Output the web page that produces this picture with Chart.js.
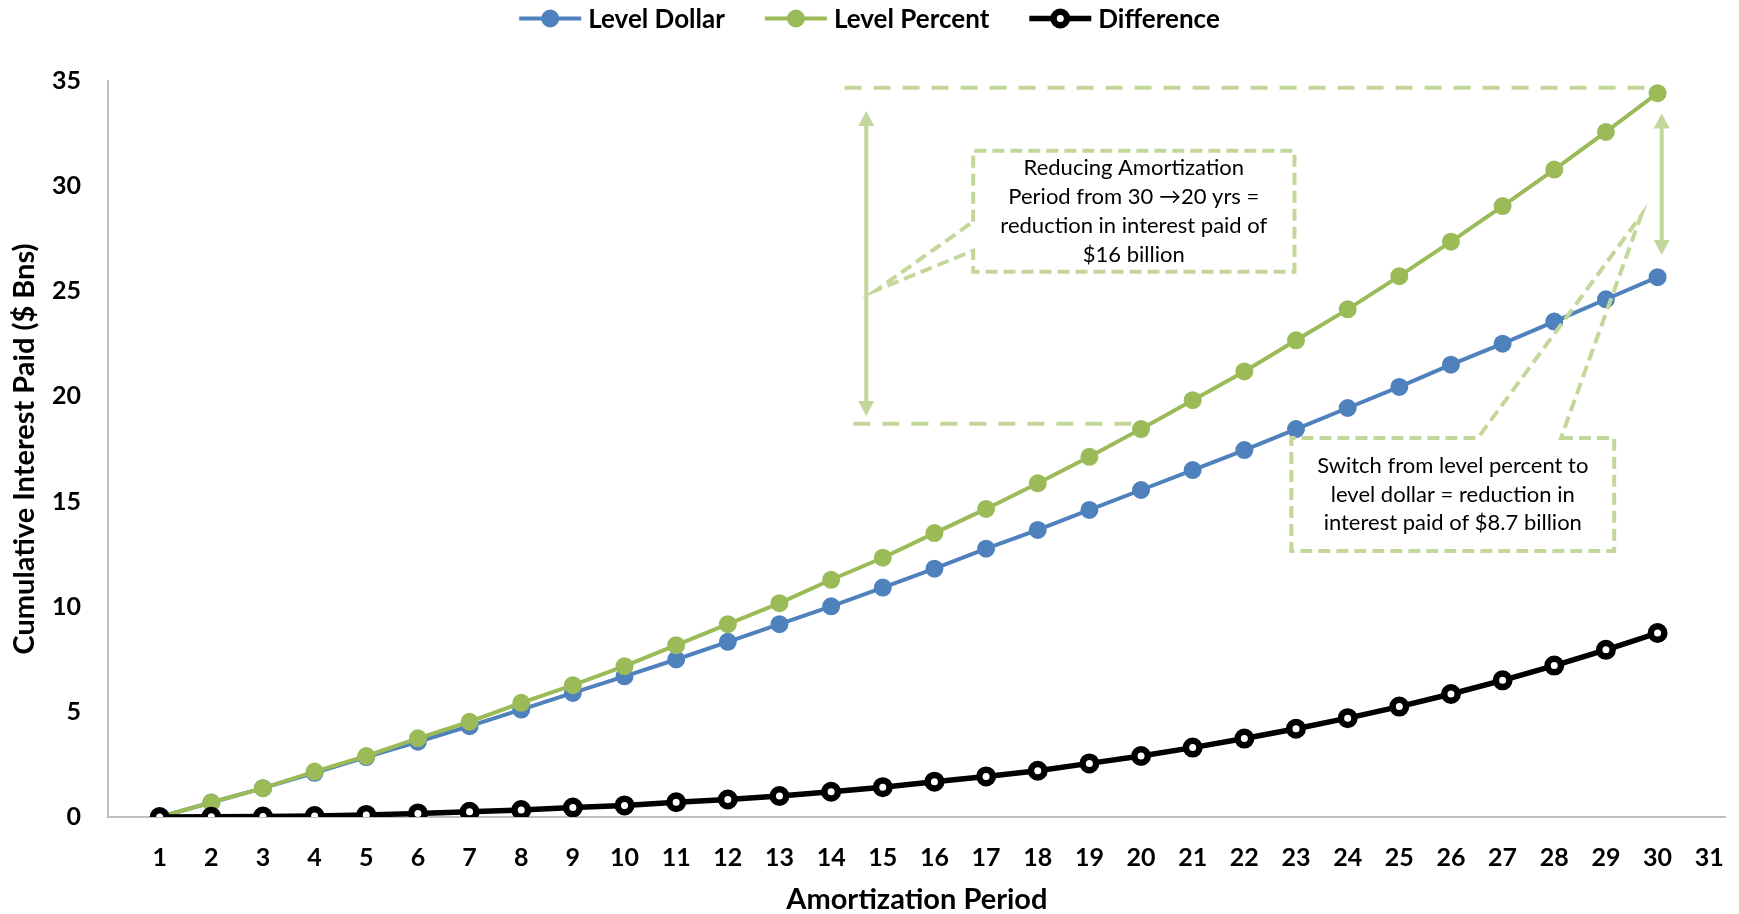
<!DOCTYPE html>
<html>
<head>
<meta charset="utf-8">
<title>Cumulative Interest Paid</title>
<script src="https://cdn.jsdelivr.net/npm/chart.js@4.4.0/dist/chart.umd.min.js"></script>
<style>
  html, body { margin: 0; padding: 0; background: #fff; }
  #wrap { width: 1739px; height: 914px; }
</style>
</head>
<body>
<div id="wrap"><canvas id="chart" width="1739" height="914"></canvas></div>
<script>
// Amortization periods shown on the axis (no data at 31)
const periods = [1, 2, 3, 4, 5, 6, 7, 8, 9, 10, 11, 12, 13, 14, 15, 16,
  17, 18, 19, 20, 21, 22, 23, 24, 25, 26, 27, 28, 29, 30, 31];

// Cumulative interest paid, $ billions
const levelDollar = [0, 0.69, 1.37, 2.1, 2.85, 3.58, 4.32, 5.11, 5.9, 6.69, 7.49, 8.33, 9.17, 10.02, 10.91,
  11.81, 12.76, 13.65, 14.6, 15.55, 16.5, 17.45, 18.45, 19.45, 20.45, 21.51, 22.51, 23.56, 24.62, 25.67];
const levelPercent = [0, 0.69, 1.37, 2.16, 2.9, 3.74, 4.53, 5.43, 6.27, 7.17, 8.17, 9.17, 10.17, 11.28, 12.33,
  13.5, 14.65, 15.87, 17.13, 18.45, 19.82, 21.19, 22.67, 24.14, 25.72, 27.36, 29.05, 30.79, 32.58, 34.42];
const difference = [0, 0.01, 0.02, 0.05, 0.1, 0.17, 0.25, 0.33, 0.45, 0.55, 0.7, 0.83, 1.0, 1.2, 1.42,
  1.68, 1.93, 2.2, 2.55, 2.9, 3.3, 3.73, 4.2, 4.7, 5.25, 5.85, 6.5, 7.2, 7.95, 8.75];

const seriesNames = ['Level Dollar', 'Level Percent', 'Difference'];
const yTicks = [0, 5, 10, 15, 20, 25, 30, 35];

const calloutText1 = ['Reducing Amortization', 'Period from 30 \u219220 yrs =', 'reduction in interest paid of', '$16 billion'];
const calloutText2 = ['Switch from level percent to', 'level dollar = reduction in', 'interest paid of $8.7 billion'];

const BLUE = '#4f81bd';
const GREEN = '#9bbb59';
const ANNO = '#c4d79b';
const FONT = 'Lato, "Open Sans", sans-serif';

// annotation geometry, in period / value units
const anno = {
  topLine: { y: 34.68, x1: 14.26, x2: 29.77 },
  bottomLine: { y: 18.7, x1: 14.43, x2: 19.89 },
  arrow1: { x: 14.68, y1: 33.57, y2: 19.07 },
  arrow2: { x: 30.08, y1: 33.46, y2: 26.72 },
  box1: { l: 16.75, r: 22.97, t: 31.68, b: 25.93, tipX: 14.88, tipY: 25.06, a1: 28.31, a2: 26.93 },
  box2: { l: 22.91, r: 29.16, t: 18.02, b: 12.65, tipX: 29.68, tipY: 28.6, a1: 26.52, a2: 28.13 }
};

const toPoints = values => values.map((v, i) => ({ x: periods[i], y: v }));

const drawArrow = (ctx, x, yTop, yBot) => {
  const head = 15, half = 8;
  ctx.save();
  ctx.strokeStyle = ANNO;
  ctx.fillStyle = ANNO;
  ctx.lineWidth = 4;
  ctx.beginPath();
  ctx.moveTo(x, yTop + head - 2);
  ctx.lineTo(x, yBot - head + 2);
  ctx.stroke();
  ctx.beginPath();
  ctx.moveTo(x, yTop);
  ctx.lineTo(x - half, yTop + head);
  ctx.lineTo(x + half, yTop + head);
  ctx.closePath();
  ctx.fill();
  ctx.beginPath();
  ctx.moveTo(x, yBot);
  ctx.lineTo(x - half, yBot - head);
  ctx.lineTo(x + half, yBot - head);
  ctx.closePath();
  ctx.fill();
  ctx.restore();
};

const annotationPlugin = {
  id: 'annotations',
  afterDatasetsDraw(chart) {
    const ctx = chart.ctx;
    const xs = chart.scales.x, ys = chart.scales.y;
    const px = v => xs.getPixelForValue(v);
    const py = v => ys.getPixelForValue(v);

    ctx.save();
    ctx.strokeStyle = ANNO;
    ctx.lineWidth = 4;

    // long dashed guide lines
    ctx.setLineDash([17, 12]);
    [anno.topLine, anno.bottomLine].forEach(l => {
      ctx.beginPath();
      ctx.moveTo(px(l.x1), py(l.y));
      ctx.lineTo(px(l.x2), py(l.y));
      ctx.stroke();
    });

    // callout 1: pointer on the left side
    const b1 = anno.box1;
    ctx.setLineDash([12, 6]);
    ctx.beginPath();
    ctx.moveTo(px(b1.l), py(b1.a1));
    ctx.lineTo(px(b1.l), py(b1.t));
    ctx.lineTo(px(b1.r), py(b1.t));
    ctx.lineTo(px(b1.r), py(b1.b));
    ctx.lineTo(px(b1.l), py(b1.b));
    ctx.lineTo(px(b1.l), py(b1.a2));
    ctx.lineTo(px(b1.tipX), py(b1.tipY));
    ctx.closePath();
    ctx.stroke();

    // callout 2: pointer on the top side
    const b2 = anno.box2;
    ctx.beginPath();
    ctx.moveTo(px(b2.a2), py(b2.t));
    ctx.lineTo(px(b2.r), py(b2.t));
    ctx.lineTo(px(b2.r), py(b2.b));
    ctx.lineTo(px(b2.l), py(b2.b));
    ctx.lineTo(px(b2.l), py(b2.t));
    ctx.lineTo(px(b2.a1), py(b2.t));
    ctx.lineTo(px(b2.tipX), py(b2.tipY));
    ctx.closePath();
    ctx.stroke();
    ctx.setLineDash([]);

    // callout text
    ctx.fillStyle = '#000';
    ctx.font = '22px ' + FONT;
    ctx.textAlign = 'center';
    ctx.textBaseline = 'middle';
    const drawLines = (lines, box, step) => {
      const cx = (px(box.l) + px(box.r)) / 2;
      const cy = (py(box.t) + py(box.b)) / 2;
      const start = cy - step * (lines.length - 1) / 2;
      lines.forEach((t, i) => ctx.fillText(t, cx, start + i * step));
    };
    drawLines(calloutText1, b1, 29);
    drawLines(calloutText2, b2, 28.5);
    ctx.restore();

    drawArrow(ctx, px(anno.arrow1.x), py(anno.arrow1.y1), py(anno.arrow1.y2));
    drawArrow(ctx, px(anno.arrow2.x), py(anno.arrow2.y1), py(anno.arrow2.y2));
  },
  afterDraw(chart) {
    // legend: line + marker, centred over the canvas
    const ctx = chart.ctx;
    const lineLen = 62, gap = 7, itemGap = 40, cy = 18.5;
    ctx.save();
    ctx.font = 'bold 26px ' + FONT;
    ctx.textBaseline = 'middle';
    ctx.textAlign = 'left';
    const items = chart.data.datasets.map(ds => ({
      ds, w: lineLen + gap + ctx.measureText(ds.label).width
    }));
    const total = items.reduce((s, it) => s + it.w, 0) + itemGap * (items.length - 1);
    let x = (chart.width - total) / 2;
    items.forEach(({ ds, w }) => {
      ctx.strokeStyle = ds.borderColor;
      ctx.lineWidth = ds.borderWidth;
      ctx.beginPath();
      ctx.moveTo(x, cy);
      ctx.lineTo(x + lineLen, cy);
      ctx.stroke();
      ctx.beginPath();
      ctx.arc(x + lineLen / 2, cy, ds.pointRadius, 0, Math.PI * 2);
      ctx.fillStyle = ds.pointBackgroundColor;
      ctx.fill();
      ctx.lineWidth = ds.pointBorderWidth;
      ctx.strokeStyle = ds.pointBorderColor;
      ctx.stroke();
      ctx.fillStyle = '#000';
      ctx.fillText(ds.label, x + lineLen + gap, cy + 1);
      x += w + itemGap;
    });
    ctx.restore();
  }
};

const ctx = document.getElementById('chart').getContext('2d');
const chart = new Chart(ctx, {
  type: 'line',
  data: {
    datasets: [
      {
        label: seriesNames[0],
        data: toPoints(levelDollar),
        borderColor: BLUE,
        borderWidth: 4,
        pointRadius: 8,
        pointBorderWidth: 2,
        pointBackgroundColor: BLUE,
        pointBorderColor: BLUE,
        tension: 0,
        order: 3
      },
      {
        label: seriesNames[1],
        data: toPoints(levelPercent),
        borderColor: GREEN,
        borderWidth: 4,
        pointRadius: 8,
        pointBorderWidth: 2,
        pointBackgroundColor: GREEN,
        pointBorderColor: GREEN,
        tension: 0,
        order: 2
      },
      {
        label: seriesNames[2],
        data: toPoints(difference),
        borderColor: '#000',
        borderWidth: 5.5,
        pointRadius: 6.75,
        pointBorderWidth: 6.5,
        pointBackgroundColor: '#fff',
        pointBorderColor: '#000',
        tension: 0,
        order: 1
      }
    ]
  },
  options: {
    responsive: false,
    devicePixelRatio: 1,
    animation: false,
    layout: { padding: { top: 81, right: 0, left: 0, bottom: 0 } },
    plugins: {
      legend: { display: false },
      tooltip: { enabled: false }
    },
    scales: {
      x: {
        type: 'linear',
        min: 0,
        max: 31.32,
        afterFit: scale => {
          scale.height = 97;
          scale.paddingLeft = 0;
          scale.paddingRight = 0;
        },
        afterBuildTicks: scale => { scale.ticks = periods.map(v => ({ value: v })); },
        grid: { display: false, drawTicks: false },
        border: { display: true, color: '#bfbfbf', width: 2 },
        ticks: {
          color: '#000',
          padding: 26,
          maxRotation: 0,
          autoSkip: false,
          callback: v => String(v),
          font: { family: FONT, size: 25, weight: 'bold' }
        },
        title: {
          display: true,
          text: 'Amortization Period',
          color: '#000',
          padding: { top: 0, bottom: 0 },
          font: { family: FONT, size: 29, weight: 'bold', lineHeight: 1 }
        }
      },
      y: {
        min: 0,
        max: 35,
        afterFit: scale => { scale.width = 108; },
        afterBuildTicks: scale => { scale.ticks = yTicks.map(v => ({ value: v })); },
        grid: { display: false, drawTicks: false },
        border: { display: true, color: '#bfbfbf', width: 2 },
        ticks: {
          color: '#000',
          padding: 27,
          font: { family: FONT, size: 25, weight: 'bold' }
        },
        title: {
          display: true,
          text: 'Cumulative Interest Paid ($ Bns)',
          color: '#000',
          padding: { top: 10, bottom: 0 },
          font: { family: FONT, size: 29, weight: 'bold', lineHeight: 1 }
        }
      }
    }
  },
  plugins: [annotationPlugin]
});
</script>
</body>
</html>
